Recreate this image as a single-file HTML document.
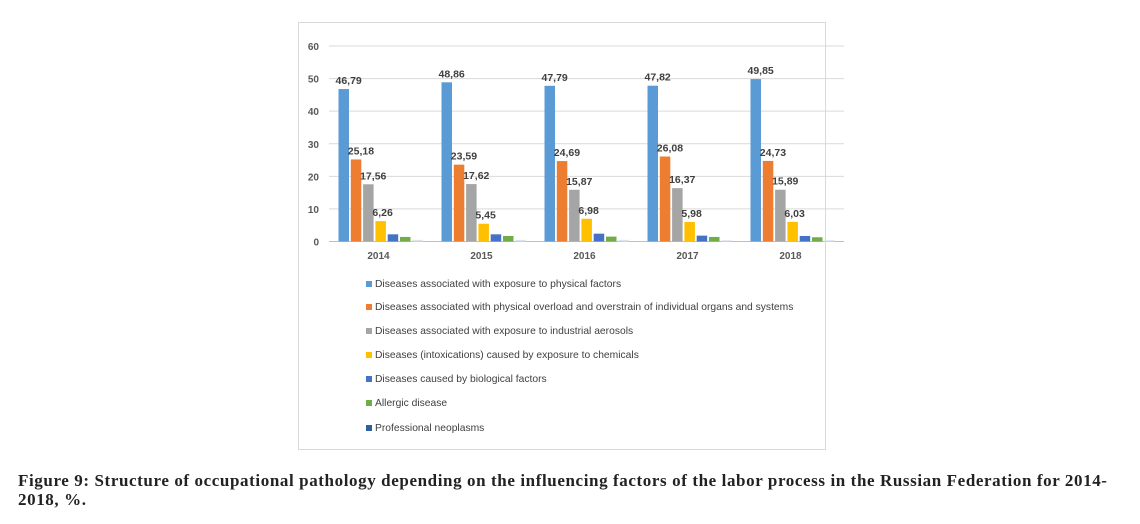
<!DOCTYPE html>
<html><head><meta charset="utf-8"><style>
body{margin:0;background:#fff;width:1140px;height:524px;position:relative;overflow:hidden;font-family:"Liberation Sans",sans-serif}
#box{position:absolute;left:298px;top:22px;width:528px;height:428px;border:1px solid #d9d9d9;box-sizing:border-box}
#cap{position:absolute;left:18px;top:471px;width:1112px;font-family:"Liberation Serif",serif;font-weight:bold;font-size:17px;letter-spacing:0.6px;line-height:19px;color:#222}
</style></head><body>
<div id="box"></div>
<svg id="chart" width="1140" height="460" style="position:absolute;left:0;top:0"></svg>
<div id="cap">Figure 9: Structure of occupational pathology depending on the influencing factors of the labor process in the Russian Federation for 2014-2018, %.</div>
<script>
const categories=["2014","2015","2016","2017","2018"];
const physical=[46.79,48.86,47.79,47.82,49.85];
const overload=[25.18,23.59,24.69,26.08,24.73];
const aerosols=[17.56,17.62,15.87,16.37,15.89];
const chemicals=[6.26,5.45,6.98,5.98,6.03];
const biological=[2.2,2.2,2.4,1.8,1.7];
const allergic=[1.4,1.7,1.5,1.4,1.3];
const neoplasms=[0.5,0.5,0.5,0.4,0.4];
const yTicks=[0,10,20,30,40,50,60];
const seriesNames=["Diseases associated with exposure to physical factors","Diseases associated with physical overload and overstrain of individual organs and systems","Diseases associated with exposure to industrial aerosols","Diseases (intoxications) caused by exposure to chemicals","Diseases caused by biological factors","Allergic disease","Professional neoplasms"];
const series=[physical,overload,aerosols,chemicals,biological,allergic,neoplasms];
const colors=["#5b9bd5","#ed7d31","#a5a5a5","#ffc000","#4472c4","#70ad47","#dde3ec"];
const labeled=[true,true,true,true,false,false,false];
const svg=document.getElementById('chart');const NS="http://www.w3.org/2000/svg";
const x0=329,x1=844,yBase=241.5,yTop=46;
const y=v=>yBase-(v/60)*(yBase-yTop);
const cw=(x1-x0)/categories.length;
function mk(t,a,txt){const e=document.createElementNS(NS,t);for(const k in a)e.setAttribute(k,a[k]);if(txt!==undefined)e.textContent=txt;svg.appendChild(e);return e;}
yTicks.forEach(t=>{
const g=mk('line',{x1:x0,x2:x1,y1:y(t),y2:y(t),stroke:t===0?'#bfbfbf':'#d9d9d9','stroke-width':1});


const l=mk('text',{x:319,y:y(t)+4,'text-anchor':'end','font-size':10,fill:'#595959','font-weight':'bold'},String(t));


});
categories.forEach((c,i)=>{
const cx=x0+cw*i;
series.forEach((s,j)=>{
const bx=cx+9.5+j*12.3;
const r=mk('rect',{x:bx,y:y(s[i]),width:10.5,height:yBase-y(s[i]),fill:colors[j]});


if(labeled[j]){
const t=mk('text',{x:bx-3,y:y(s[i])-5,'font-size':10.5,fill:'#404040','font-weight':'bold'},s[i].toFixed(2).replace('.',','));


}
});
const xl=mk('text',{x:cx+cw/2-2,y:259,'text-anchor':'middle','font-size':10,fill:'#595959','font-weight':'bold'},c);


});
const ly=[285,308,332,356,380,404,429];
seriesNames.forEach((n,j)=>{
const s=mk('rect',{x:366,y:ly[j]-4,width:6,height:6,fill:colors[j]==="#dde3ec"?"#2e5f9e":colors[j]});


const t=mk('text',{x:375,y:ly[j]+2,'font-size':10.3,fill:'#404040'},n);


});
</script>
</body></html>
